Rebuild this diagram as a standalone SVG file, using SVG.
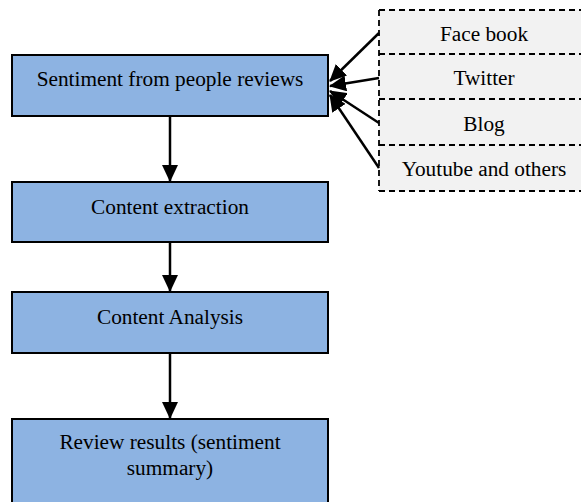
<svg xmlns="http://www.w3.org/2000/svg" width="581" height="502" viewBox="0 0 581 502">
<defs>
<style>
.box{fill:#8db3e2;stroke:#000;stroke-width:2}
.src{fill:#f2f2f2;stroke:none}
.dash{stroke:#000;stroke-width:1.8;stroke-dasharray:6,4;fill:none}
.t{font-family:"Liberation Serif","Times New Roman",serif;font-size:21.3px;fill:#000;text-anchor:middle}
.c{stroke:#000;stroke-width:2.5;fill:none}
</style>
<marker id="ah" viewBox="0 0 17 16" refX="16" refY="8" markerWidth="17" markerHeight="16" markerUnits="userSpaceOnUse" orient="auto">
<path d="M0,0 L17,8 L0,16 Z" fill="#000"/>
</marker>
</defs>
<rect width="581" height="502" fill="#fff"/>
<g id="sources">
<rect class="src" x="379" y="10" width="210" height="181"/>
<path class="dash" d="M379,10 H590 M379,54 H590 M379,99 H590 M379,145 H590 M379,191 H590 M379,10 V191"/>
<text class="t" x="484" y="41">Face book</text>
<text class="t" x="484" y="85">Twitter</text>
<text class="t" x="484" y="131">Blog</text>
<text class="t" x="484" y="176">Youtube and others</text>
</g>
<g id="n1">
<rect class="box" x="12" y="55" width="316" height="61"/>
<text class="t" x="170" y="86">Sentiment from people reviews</text>
</g>
<g id="n2">
<rect class="box" x="12" y="182" width="316" height="60"/>
<text class="t" x="170" y="214">Content extraction</text>
</g>
<g id="n3">
<rect class="box" x="12" y="292" width="316" height="61"/>
<text class="t" x="170" y="324">Content Analysis</text>
</g>
<g id="n4">
<rect class="box" x="12" y="419" width="316" height="90"/>
<text class="t" x="170" y="449">Review results (sentiment</text>
<text class="t" x="170" y="475">summary)</text>
</g>
<g id="connectors">
<line class="c" x1="379" y1="33" x2="330" y2="81" marker-end="url(#ah)"/>
<line class="c" x1="379" y1="78" x2="330" y2="86" marker-end="url(#ah)"/>
<line class="c" x1="379" y1="123" x2="330" y2="91" marker-end="url(#ah)"/>
<line class="c" x1="379" y1="168" x2="330" y2="95" marker-end="url(#ah)"/>
<line class="c" x1="170" y1="116" x2="170" y2="181" marker-end="url(#ah)"/>
<line class="c" x1="170" y1="242" x2="170" y2="291" marker-end="url(#ah)"/>
<line class="c" x1="170" y1="353" x2="170" y2="418" marker-end="url(#ah)"/>
</g>
</svg>
